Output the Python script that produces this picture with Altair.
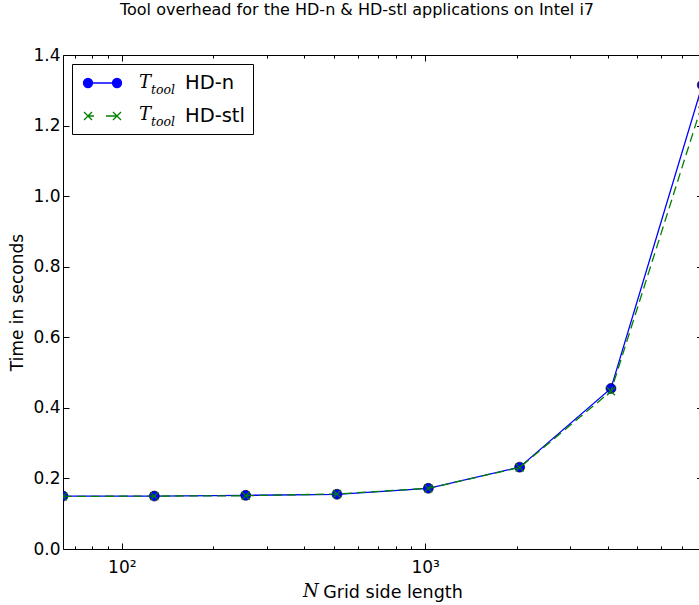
import altair as alt
import pandas as pd

# Grid side lengths and measured tool overhead (seconds)
grid_n = [64, 128, 256, 512, 1024, 2048, 4096, 8192]
t_hd_n = [0.150, 0.150, 0.152, 0.155, 0.172, 0.232, 0.455, 1.315]
t_hd_stl = [0.149, 0.150, 0.151, 0.156, 0.172, 0.231, 0.447, 1.262]
series_names = ["HD-n", "HD-stl"]
series_colors = ["#0000ff", "#008000"]

y_ticks = [0.0, 0.2, 0.4, 0.6, 0.8, 1.0, 1.2, 1.4]
x_major = [100, 1000]
x_minor = [70, 80, 90, 200, 300, 400, 500, 600, 700, 800, 900,
           2000, 3000, 4000, 5000, 6000, 7000]

title_text = "Tool overhead for the HD-n & HD-stl applications on Intel i7"
y_title = "Time in seconds"
x_title_var = "N"
x_title_rest = "Grid side length"
legend_var = "T"
legend_sub = "tool"

df = pd.DataFrame({
    "N": grid_n * 2,
    "t": t_hd_n + t_hd_stl,
    "series": [series_names[0]] * len(grid_n) + [series_names[1]] * len(grid_n),
})

W, H = 636, 494
FONT = "DejaVu Sans"
SERIF = "DejaVu Serif"
MAJOR, MINOR = 6, 3

x_scale = alt.Scale(type="log", domain=[64, 7990], nice=False)
y_scale = alt.Scale(domain=[0, 1.4], nice=False, zero=True)

# Ticks point inwards: each tick axis is pulled inside the frame by its tick length.
common = dict(grid=False, tickColor="black", tickWidth=1, domainColor="black",
              domainWidth=1)

x_bottom_major = alt.Axis(
    orient="bottom", offset=-MAJOR, values=x_major, tickSize=MAJOR,
    domain=False, labels=True,
    labelExpr="datum.value == 100 ? '10²' : '10³'",
    labelFont=FONT, labelFontSize=17, labelColor="black", labelPadding=10,
    title=x_title_rest, titleFont=FONT, titleFontSize=17.5, titleFontWeight="normal",
    titleColor="black", titleX=329.5, titleY=48 + MAJOR, titleAlign="center",
    titleBaseline="alphabetic", **common,
)
x_bottom_minor = alt.Axis(orient="bottom", offset=-MINOR, values=x_minor,
                          tickSize=MINOR, domain=False, labels=False, title=None, **common)
x_top_major = alt.Axis(orient="top", offset=-MAJOR, values=x_major, tickSize=MAJOR,
                       domain=False, labels=False, title=None, **common)
x_top_minor = alt.Axis(orient="top", offset=-MINOR, values=x_minor, tickSize=MINOR,
                       domain=False, labels=False, title=None, **common)
x_bottom_spine = alt.Axis(orient="bottom", ticks=False, labels=False, domain=True,
                          title=None, **common)
x_top_spine = alt.Axis(orient="top", ticks=False, labels=False, domain=True,
                       title=None, **common)

y_left_major = alt.Axis(
    orient="left", offset=-MAJOR, values=y_ticks, format=".1f", tickSize=MAJOR,
    domain=False, labelFont=FONT, labelFontSize=17, labelColor="black", labelPadding=3,
    title=y_title, titleFont=FONT, titleFontSize=17, titleFontWeight="normal",
    titleColor="black", titlePadding=6, **common,
)
y_left_spine = alt.Axis(orient="left", ticks=False, labels=False, domain=True,
                        title=None, **common)
y_right_ticks = alt.Axis(orient="right", offset=-2.5, values=y_ticks, tickSize=2.5,
                         domain=False, labels=False, title=None, **common)

# Legend symbols: a line with a marker at each end
path_n = ("M-0.3,0L2.6,0"
          "M-0.75,0A0.45,0.45,0,1,0,0.15,0A0.45,0.45,0,1,0,-0.75,0Z"
          "M2.15,0A0.45,0.45,0,1,0,3.05,0A0.45,0.45,0,1,0,2.15,0Z")
path_stl = ("M-0.3,0L0.3,0M1.5,0L2.6,0"
            "M-0.7,-0.4L0.1,0.4M-0.7,0.4L0.1,-0.4"
            "M2.2,-0.4L3.0,0.4M2.2,0.4L3.0,-0.4")

legend = alt.Legend(
    title=None, orient="none", legendX=9, legendY=9, direction="vertical",
    labelFont=FONT, labelFontSize=19.5, labelColor="black", labelOffset=83,
    symbolSize=400, symbolStrokeWidth=1.3, symbolOpacity=1,
    padding=8, rowPadding=12,
    strokeColor="black", fillColor="transparent", cornerRadius=0,
)

base = alt.Chart(df)
n_only = base.transform_filter(alt.datum.series == series_names[0])
stl_only = base.transform_filter(alt.datum.series == series_names[1])

# Legend source: no rows drawn, entries come from the explicit scale domains
legend_src = base.transform_filter("false").mark_point(filled=True, opacity=1).encode(
    x=alt.X("N:Q", scale=x_scale, axis=None),
    y=alt.Y("t:Q", scale=y_scale, axis=None),
    fill=alt.Fill("series:N", scale=alt.Scale(domain=series_names,
                                              range=[series_colors[0], "transparent"]),
                  legend=legend),
    stroke=alt.Stroke("series:N", scale=alt.Scale(domain=series_names, range=series_colors),
                      legend=legend),
    shape=alt.Shape("series:N", scale=alt.Scale(domain=series_names,
                                                range=[path_n, path_stl]),
                    legend=legend),
)

line_n = n_only.mark_line(strokeWidth=1.3, color=series_colors[0], clip=True).encode(
    x=alt.X("N:Q", scale=x_scale, axis=x_bottom_major),
    y=alt.Y("t:Q", scale=y_scale, axis=y_left_major),
)

pts_n = n_only.mark_point(shape="circle", filled=True, size=100, fill=series_colors[0],
                          stroke="black", strokeWidth=0.6, opacity=1, clip=True).encode(
    x=alt.X("N:Q", scale=x_scale, axis=x_bottom_minor),
    y=alt.Y("t:Q", scale=y_scale, axis=y_right_ticks),
)

line_stl = stl_only.mark_line(strokeWidth=1.3, strokeDash=[9, 5], color=series_colors[1],
                              clip=True).encode(
    x=alt.X("N:Q", scale=x_scale, axis=x_top_major),
    y=alt.Y("t:Q", scale=y_scale, axis=y_left_spine),
)

pts_stl = stl_only.mark_point(shape="M-1,-1L1,1M-1,1L1,-1", filled=False, size=64,
                              stroke=series_colors[1], strokeWidth=1.2, opacity=1,
                              clip=True).encode(
    x=alt.X("N:Q", scale=x_scale, axis=x_top_minor),
    y=alt.Y("t:Q", scale=y_scale, axis=None),
)

# Frame lines carried by axes with no ticks
spine_bottom = base.mark_point(opacity=0).encode(
    x=alt.X("N:Q", scale=x_scale, axis=x_bottom_spine),
    y=alt.Y("t:Q", scale=y_scale, axis=None),
)
spine_top = base.mark_point(opacity=0).encode(
    x=alt.X("N:Q", scale=x_scale, axis=x_top_spine),
    y=alt.Y("t:Q", scale=y_scale, axis=None),
)


def label_text(text, x, y, size, italic=True, font=SERIF):
    return alt.Chart(pd.DataFrame({"s": [text]})).mark_text(
        font=font, fontSize=size, fontStyle="italic" if italic else "normal",
        align="left", baseline="alphabetic", color="black",
    ).encode(x=alt.value(x), y=alt.value(y), text="s:N")


texts = [
    label_text(x_title_var, 240, 542, 18),
    label_text(legend_var, 76, 33, 18),
    label_text(legend_sub, 88, 39, 12.5),
    label_text(legend_var, 76, 65, 18),
    label_text(legend_sub, 88, 71, 12.5),
]

chart = alt.layer(
    spine_bottom, spine_top, line_n, pts_n, line_stl, pts_stl, legend_src, *texts
).resolve_axis(
    x="independent", y="independent"
).properties(
    width=W, height=H,
    autosize=alt.AutoSizeParams(type="none"),
    padding={"left": 63, "top": 55, "right": 0, "bottom": 56},
    title=alt.Title(title_text, font=FONT, fontSize=16, fontWeight="normal",
                    color="black", anchor="middle", dx=-24, offset=28),
).configure_view(stroke=None)

chart.save("out.html", embed_options={"renderer": "svg", "actions": False})
